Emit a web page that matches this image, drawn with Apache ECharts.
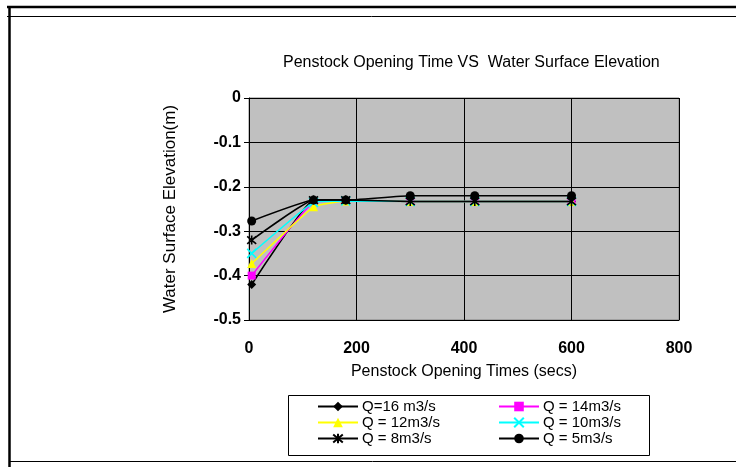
<!DOCTYPE html>
<html>
<head>
<meta charset="utf-8">
<script src="https://cdn.jsdelivr.net/npm/echarts@6/dist/echarts.min.js"></script>
<style>
html,body{margin:0;padding:0;background:#fff;}
#c{width:736px;height:467px;}
</style>
</head>
<body>
<div id="c"></div>
<script>
// Data
const times = [5, 120, 180, 300, 420, 600];
const seriesNames = ['Q=16 m3/s', 'Q = 14m3/s', 'Q = 12m3/s', 'Q = 10m3/s', 'Q = 8m3/s', 'Q = 5m3/s'];
const q16 = [-0.42, -0.23, -0.23, -0.233, -0.233, -0.233];
const q14 = [-0.40, -0.235, -0.232, -0.233, -0.233, -0.233];
const q12 = [-0.373, -0.245, -0.232, -0.233, -0.233, -0.233];
const q10 = [-0.35, -0.235, -0.232, -0.233, -0.233, -0.233];
const q8 = [-0.32, -0.23, -0.23, -0.233, -0.233, -0.233];
const q5 = [-0.277, -0.23, -0.23, -0.22, -0.22, -0.22];
const xTicks = [0, 200, 400, 600, 800];
const yTicks = [0, -0.1, -0.2, -0.3, -0.4, -0.5];

const FONT = '"Liberation Sans", Arial, sans-serif';
const valuesList = [q16, q14, q12, q10, q8, q5];
const styles = [
  {color:'#000000', symbol:'diamond', size:9, stroke:false},
  {color:'#FF00FF', symbol:'rect', size:8, stroke:false},
  {color:'#FFFF00', symbol:'triangle', size:9, stroke:false},
  {color:'#00FFFF', symbol:'path://M0,0L10,10M10,0L0,10', size:9, stroke:true},
  {color:'#000000', symbol:'path://M0,0L10,10M10,0L0,10M5,-1L5,11', size:9, stroke:true},
  {color:'#000000', symbol:'circle', size:9, stroke:false}
];

const series = valuesList.map((vals, i) => {
  const s = styles[i];
  return {
    name: seriesNames[i],
    type: 'line',
    smooth: 0.1,
    data: times.map((t, j) => [t, vals[j]]),
    symbol: s.symbol,
    symbolSize: s.size,
    showAllSymbol: true,
    lineStyle: {color: s.color, width: 1.5},
    itemStyle: s.stroke
      ? {color: 'rgba(0,0,0,0)', borderColor: s.color, borderWidth: 1.6}
      : {color: s.color, borderColor: s.color, borderWidth: 0},
    emphasis: {disabled: true},
    z: 2 + i
  };
});

// legend positions (2 columns x 3 rows)
const colX = [317, 498];
const rowY = [399, 415, 431];
const legends = seriesNames.map((n, i) => ({
  data: [n],
  left: colX[i % 2],
  top: rowY[Math.floor(i / 2)],
  padding: 0,
  itemWidth: 40,
  itemHeight: 12,
  itemGap: 0,
  selectedMode: false,
  textStyle: {fontFamily: FONT, fontSize: 15, color: '#000', padding: [0,0,0,-1]}
}));

const chart = echarts.init(document.getElementById('c'), null, {renderer: 'canvas'});
chart.setOption({
  animation: false,
  backgroundColor: '#ffffff',
  title: {
    text: 'Penstock Opening Time VS  Water Surface Elevation',
    left: 283,
    top: 55,
    padding: 0,
    textStyle: {fontFamily: FONT, fontSize: 16, fontWeight: 'normal', color: '#000'}
  },
  legend: legends,
  grid: {
    left: 249, top: 98, width: 430, height: 222,
    show: true, backgroundColor: '#C0C0C0', borderColor: '#808080', borderWidth: 1
  },
  xAxis: {
    type: 'value',
    min: xTicks[0], max: xTicks[xTicks.length - 1], interval: 200,
    name: 'Penstock Opening Times (secs)',
    nameLocation: 'middle',
    nameGap: 44,
    nameTextStyle: {fontFamily: FONT, fontSize: 16, color: '#000'},
    axisLine: {show: true, onZero: false, lineStyle: {color: '#000', width: 1}},
    axisTick: {show: false},
    axisLabel: {fontFamily: FONT, fontSize: 16, fontWeight: 'bold', color: '#000', margin: 21},
    splitLine: {show: true, lineStyle: {color: '#000', width: 1}}
  },
  yAxis: {
    type: 'value',
    min: yTicks[yTicks.length - 1], max: yTicks[0], interval: 0.1,
    name: 'Water Surface Elevation(m)',
    nameLocation: 'middle',
    nameGap: 70,
    nameTextStyle: {fontFamily: FONT, fontSize: 17, color: '#000'},
    axisLine: {show: true, lineStyle: {color: '#000', width: 1}},
    axisTick: {show: true, length: 5, lineStyle: {color: '#000'}},
    axisLabel: {fontFamily: FONT, fontSize: 16, fontWeight: 'bold', color: '#000', margin: 8,
      formatter: v => String(Math.round(v * 10) / 10)},
    splitLine: {show: true, lineStyle: {color: '#000', width: 1}}
  },
  graphic: [
    {type: 'line', shape: {x1: 7, y1: 7, x2: 736, y2: 7}, style: {stroke: '#000', lineWidth: 2.5}},
    {type: 'line', shape: {x1: 7, y1: 16.5, x2: 736, y2: 16.5}, style: {stroke: '#000', lineWidth: 1}},
    {type: 'line', shape: {x1: 9.5, y1: 6, x2: 9.5, y2: 467}, style: {stroke: '#000', lineWidth: 2.5}},
    {type: 'line', shape: {x1: 9, y1: 461.5, x2: 736, y2: 461.5}, style: {stroke: '#000', lineWidth: 1}},
    {type: 'rect', shape: {x: 288.5, y: 395.5, width: 361, height: 60},
      style: {fill: 'none', stroke: '#000', lineWidth: 1}, z: -1}
  ],
  series: series
});
</script>
</body>
</html>
